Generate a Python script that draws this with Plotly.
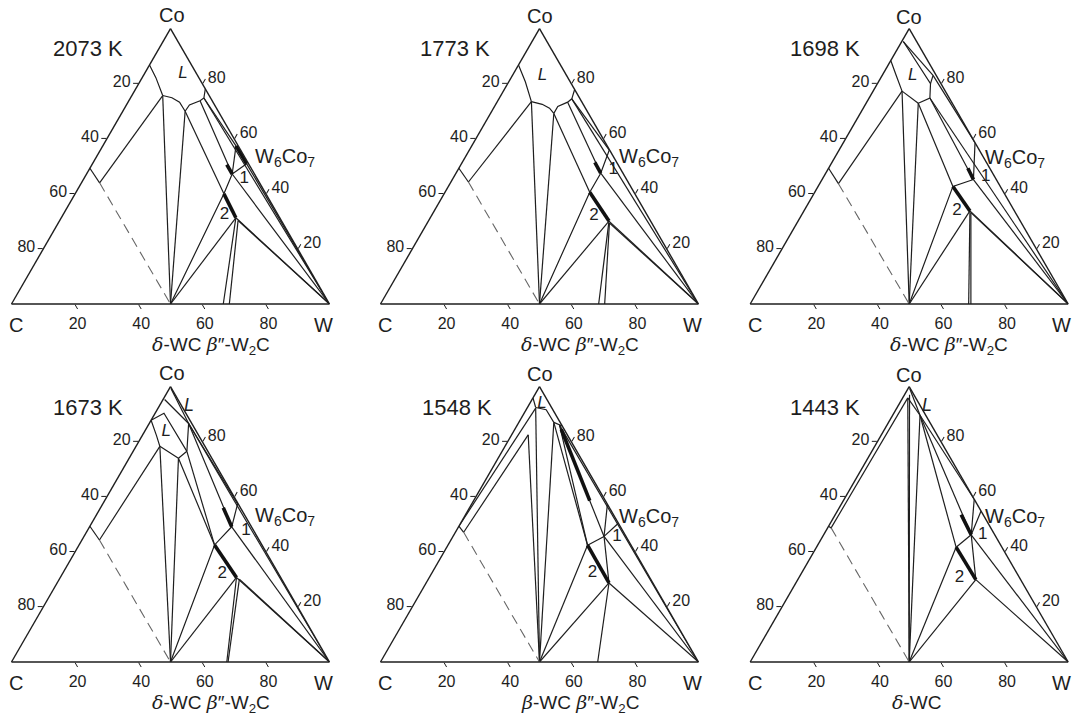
import plotly.graph_objects as go

# ---------------- DATA: polylines as (Co, W) in at.%, C = 100 - Co - W ----------------
TEMPS = ["2073 K", "1773 K", "1698 K", "1673 K", "1548 K", "1443 K"]
TICK_VALS = [20, 40, 60, 80]

T2073_thin = [
    [(49.3, 0), (44.0, 5.7)], [(44.0, 5.7), (75.7, 9.7)], [(75.7, 9.7), (0, 50)],
    [(86.8, 0), (82.2, 4.3), (75.7, 9.7)],
    [(75.7, 9.7), (74.9, 13.0), (73.3, 16.2), (70.0, 19.6)],
    [(70.0, 19.6), (0, 50)],
    [(70.0, 19.6), (72.3, 19.8), (73.8, 22.4), (74.8, 23.1), (78.1, 21.9)],
    [(70.0, 19.6), (40.0, 46.8)], [(73.8, 22.4), (47.2, 45.8)],
    [(74.8, 23.1), (0, 100)], [(74.8, 23.1), (57.4, 41.9)],
    [(50.9, 48.5), (0, 100)], [(50.9, 48.5), (47.2, 45.8)], [(57.4, 41.9), (47.2, 45.8)],
    [(47.2, 45.8), (0, 100)], [(0, 50), (40.0, 46.8), (47.2, 45.8)],
    [(0, 50), (31.3, 54.9)], [(31.3, 54.9), (0, 100)], [(30.3, 56.1), (0, 100)],
    [(0, 66.6), (31.3, 54.9)], [(0, 68.5), (30.3, 56.1)],
]
T2073_thick = [[(40.0, 46.8), (31.3, 54.9)], [(57.4, 41.9), (50.9, 48.5)], [(50.6, 42.4), (47.2, 45.8)]]
T2073_dash = [[(44.0, 5.7), (0, 50)]]
T2073_text = [("<i>L</i>", 83.5, 12.2), ("1", 45.6, 50.4), ("2", 32.5, 50.7)]

T1773_thin = [
    [(49.3, 0), (44.3, 5.5)], [(44.3, 5.5), (73.5, 10.7)], [(73.5, 10.7), (0, 50)],
    [(86.8, 0), (80.7, 5.2), (73.5, 10.7)],
    [(73.5, 10.7), (72.5, 14.6), (71.1, 17.6), (69.2, 19.9)],
    [(69.2, 19.9), (0, 50)],
    [(69.2, 19.9), (71.7, 19.9), (73.3, 22.2), (74.5, 22.9), (77.9, 22.1)],
    [(69.2, 19.9), (40.6, 45.5)], [(73.3, 22.2), (47.5, 45.5)],
    [(74.5, 22.9), (0, 100)], [(74.5, 22.9), (55.9, 44.0)],
    [(0, 50), (40.6, 45.5), (47.5, 45.5), (55.9, 44.0)],
    [(47.5, 45.5), (0, 100)], [(0, 50), (30.1, 56.8)], [(30.1, 56.8), (0, 100)],
    [(29.4, 57.3), (0, 100)], [(0, 68.6), (30.1, 56.8)], [(0, 70.5), (29.4, 57.3)],
]
T1773_thick = [[(40.6, 45.5), (30.1, 56.8)], [(51.4, 41.7), (47.5, 45.5)]]
T1773_dash = [[(44.3, 5.5), (0, 50)]]
T1773_text = [("<i>L</i>", 83.0, 9.4), ("1", 48.7, 48.8), ("2", 31.9, 51.2)]

T1698_thin = [
    [(49.3, 0), (43.7, 5.9)], [(43.7, 5.9), (77.3, 9.1)], [(77.3, 9.1), (0, 50)],
    [(88.4, 0), (82.9, 4.5), (77.3, 9.1)], [(77.3, 9.1), (72.9, 16.4)],
    [(72.9, 16.4), (0, 50)],
    [(72.9, 16.4), (74.8, 19.1), (80.0, 16.7), (95.3, 0.5)],
    [(95.3, 0.5), (83.0, 16.0)], [(80.0, 16.7), (83.0, 16.0)], [(83.0, 16.0), (58.6, 41.4)],
    [(72.9, 16.4), (42.7, 42.4)], [(74.8, 19.1), (45.2, 47.6)], [(74.8, 19.1), (0, 100)],
    [(58.6, 41.4), (45.2, 47.6)], [(0, 50), (42.7, 42.4), (45.2, 47.6)],
    [(45.2, 47.6), (0, 100)], [(0, 50), (33.8, 52.2)], [(33.8, 52.2), (0, 100)],
    [(33.2, 52.8), (0, 100)], [(0, 68.7), (33.8, 52.2)], [(0, 69.4), (33.2, 52.8)],
]
T1698_thick = [[(42.7, 42.4), (33.8, 52.2)], [(49.3, 43.8), (45.2, 47.6)]]
T1698_dash = [[(43.7, 5.9), (0, 50)]]
T1698_text = [("<i>L</i>", 82.9, 9.7), ("1", 46.2, 51.0), ("2", 33.8, 48.1)]

T1673_thin = [
    [(49.3, 0), (44.3, 5.5)], [(44.3, 5.5), (78.3, 7.5)], [(78.3, 7.5), (0, 50)],
    [(87.8, 0), (82.2, 4.5), (78.3, 7.5)],
    [(87.8, 0), (90.3, 2.8), (76.5, 16.9)],
    [(78.3, 7.5), (74.0, 15.5), (76.5, 16.9)],
    [(74.0, 15.5), (0, 50)], [(76.5, 16.9), (86.6, 12.4)],
    [(95.3, 0.5), (86.6, 12.4)], [(99.3, 0.5), (86.6, 12.4)],
    [(74.0, 15.5), (42.5, 42.6)], [(76.5, 16.9), (42.5, 42.6)],
    [(86.6, 12.4), (49.1, 44.7)], [(86.6, 12.4), (57.4, 42.4)], [(86.6, 12.4), (0, 100)],
    [(57.4, 42.4), (49.1, 44.7)], [(0, 50), (42.5, 42.6), (49.1, 44.7)],
    [(49.1, 44.7), (0, 100)], [(0, 50), (30.7, 55.4)], [(30.7, 55.4), (0, 100)],
    [(30.1, 56.6), (0, 100)], [(0, 67.7), (30.7, 55.4)], [(0, 68.1), (30.1, 56.6)],
]
T1673_thick = [[(42.5, 42.6), (30.7, 55.4)], [(56.0, 38.6), (49.1, 44.7)]]
T1673_dash = [[(44.3, 5.5), (0, 50)]]
T1673_text = [("<i>L</i>", 83.5, 6.9), ("1", 47.7, 49.9), ("2", 31.9, 50.3)]

T1548_thin = [
    [(49.3, 0), (92.2, 2.7)], [(49.3, 0), (47.1, 2.6)], [(47.1, 2.6), (82.5, 5.2)],
    [(82.5, 5.2), (0, 50)], [(92.2, 2.7), (0, 50)],
    [(92.4, 2.6), (91.6, 6.3), (87.0, 11.0)], [(95.9, 0), (92.4, 2.6)],
    [(87.0, 11.0), (0, 50)], [(87.0, 11.0), (85.7, 14.3)],
    [(87.0, 11.0), (42.4, 43.9)], [(86.0, 13.3), (42.4, 43.9)],
    [(86.0, 13.3), (45.6, 47.5)], [(86.0, 13.3), (0, 100)],
    [(57.3, 42.7), (45.6, 47.5)], [(50.4, 49.6), (45.6, 47.5)],
    [(45.6, 47.5), (28.7, 57.5)], [(28.7, 57.5), (0, 68.3)],
    [(0, 50), (42.4, 43.9)], [(42.4, 43.9), (45.6, 47.5)], [(45.6, 47.5), (0, 100)],
    [(0, 50), (28.7, 57.5)], [(28.7, 57.5), (0, 100)],
]
T1548_thick = [[(42.4, 43.9), (28.7, 57.5)], [(84.5, 14.6), (58.6, 36.5)]]
T1548_dash = [[(47.1, 2.6), (0, 50)]]
T1548_text = [("<i>L</i>", 93.8, 3.9), ("1", 45.6, 51.6), ("2", 32.3, 50.5)]

T1443_thin = [
    [(49.3, 0), (48.7, 1.1)], [(48.7, 1.1), (95.9, 1.6)], [(95.9, 1.6), (0, 50)],
    [(97.0, 1.6), (0, 50)],
    [(95.9, 1.6), (89.6, 8.6)], [(99.3, 0.5), (89.6, 8.6)], [(89.6, 8.6), (0, 50)],
    [(89.6, 8.6), (41.7, 43.9)], [(89.6, 8.6), (46.2, 46.4)], [(89.6, 8.6), (59.1, 40.9)],
    [(59.1, 40.9), (46.2, 46.4)], [(54.8, 45.2), (46.2, 46.4)],
    [(0, 50), (41.7, 43.9)], [(41.7, 43.9), (46.2, 46.4)], [(46.2, 46.4), (29.9, 56.0)],
    [(0, 50), (29.9, 56.0)], [(29.9, 56.0), (0, 100)], [(46.2, 46.4), (0, 100)],
]
T1443_thick = [[(41.7, 43.9), (29.9, 56.0)], [(53.5, 39.6), (46.2, 46.4)]]
T1443_dash = [[(48.7, 1.1), (0, 50)]]
T1443_text = [("1", 46.2, 50.0), ("2", 30.7, 50.5)]

PHASES = [
    "δ-WC β\"-W2C", "δ-WC β\"-W2C", "δ-WC β\"-W2C",
    "δ-WC β\"-W2C", "β-WC β\"-W2C", "δ-WC",
]

# ---------------- STYLE / LAYOUT ----------------
W_PX, H_PX = 1072, 716
FONT = "Liberation Sans, Arial, Helvetica, sans-serif"
LC = "#1e1e1e"
TC = "#1e1e1e"

# triangle placement (centre x, base y) in pixels, and side length
CENTERS = [(170.5, 304), (539.5, 304), (909.2, 304),
           (170.5, 662), (539.5, 662), (909.2, 662)]
SIDE = 318.0


def px(x, y):
    return x / W_PX, 1 - y / H_PX


def greek(s):
    out = ""
    for ch in s:
        if ch in "δβ":
            out += "<span style='font-family:DejaVu Serif;font-style:italic'>" + ch + "</span>"
        else:
            out += ch
    return out.replace("W2C", "W<sub>2</sub>C").replace("\"", "\u2033")


fig = go.Figure()

panels = [
    (T2073_thin, T2073_thick, T2073_dash, T2073_text),
    (T1773_thin, T1773_thick, T1773_dash, T1773_text),
    (T1698_thin, T1698_thick, T1698_dash, T1698_text),
    (T1673_thin, T1673_thick, T1673_dash, T1673_text),
    (T1548_thin, T1548_thick, T1548_dash, T1548_text),
    (T1443_thin, T1443_thick, T1443_dash, T1443_text),
]


def lines_abc(lines):
    a, b, c = [], [], []
    for line in lines:
        for co, w in line:
            a.append(co)
            c.append(w)
            b.append(100 - co - w)
        a.append(None); b.append(None); c.append(None)
    return a, b, c


layout_extra = {}
for i, (thin, thick, dash, texts) in enumerate(panels):
    sp = "ternary" if i == 0 else f"ternary{i + 1}"
    for lines, width, dsh, col in [(thin, 1.2, None, LC), (thick, 3.6, None, "#111"),
                                    (dash, 1.1, "10px,6px", "#666")]:
        a, b, c = lines_abc(lines)
        fig.add_trace(go.Scatterternary(
            a=a, b=b, c=c, mode="lines", subplot=sp, hoverinfo="skip", showlegend=False,
            line=dict(color=col, width=width, dash=dsh)))
    fig.add_trace(go.Scatterternary(
        a=[t[1] for t in texts], c=[t[2] for t in texts],
        b=[100 - t[1] - t[2] for t in texts],
        text=[t[0] for t in texts], mode="text", subplot=sp, hoverinfo="skip",
        showlegend=False, cliponaxis=False,
        textfont=dict(size=17, family=FONT, color=TC)))

    cx, by = CENTERS[i]
    h = SIDE * 3 ** 0.5 / 2
    x0, _ = px(cx - SIDE / 2, 0)
    x1, _ = px(cx + SIDE / 2, 0)
    _, y0 = px(0, by)
    _, y1 = px(0, by - h)
    common = dict(showgrid=False, showline=True, linecolor=LC, linewidth=1.4,
                  ticks="outside", ticklen=5, tickwidth=1, tickcolor=LC,
                  tickfont=dict(size=16, family=FONT, color=TC), title=dict(text=""),
                  tickmode="array", min=0)
    layout_extra[sp] = dict(
        domain=dict(x=[x0, x1], y=[y0, y1]), sum=100, bgcolor="white",
        aaxis=dict(common, tickvals=[100 - v for v in TICK_VALS], ticktext=[str(v) for v in TICK_VALS]),
        baxis=dict(common, tickvals=[100 - v for v in TICK_VALS], ticktext=[str(v) for v in TICK_VALS]),
        caxis=dict(common, tickvals=TICK_VALS, ticktext=[str(100 - v) for v in TICK_VALS]),
    )

# ---------------- ANNOTATIONS (text outside the triangles) ----------------
ann = []
TEMP_POS = [(88, 48), (455, 49), (825, 49), (88, 407), (456.5, 407), (825, 407)]
CO_POS = [(172, 15), (540, 16), (909, 17), (172, 373), (540, 374), (909, 375)]
C_POS = [(16, 325), (385, 325), (755, 325), (16, 683), (385, 683), (755, 683)]
W_POS = [(323, 325), (692, 325), (1061, 325), (323, 683), (692, 683), (1061, 683)]
W6_POS = [(285, 158), (649, 158), (1015, 159), (285, 516), (649, 517), (1015, 517)]
PH_POS = [(210.5, 333), (579.5, 333), (949, 333), (210.5, 691), (579.5, 691), (916, 691)]
L_OUT = [(189, 405), (927, 405)]


def add(text, pos, size, yanchor="middle"):
    x, y = px(*pos)
    ann.append(dict(text=text, x=x, y=y, xref="paper", yref="paper", showarrow=False,
                    xanchor="center", yanchor=yanchor, borderpad=0, borderwidth=0,
                    font=dict(size=size, family=FONT, color=TC)))


for i in range(6):
    add(TEMPS[i], TEMP_POS[i], 22)
    add("Co", CO_POS[i], 20)
    add("C", C_POS[i], 20)
    add("W", W_POS[i], 20)
    add("W<sub>6</sub>Co<sub>7</sub>", W6_POS[i], 20)
    add(greek(PHASES[i]), PH_POS[i], 19, yanchor="top")
for p in L_OUT:
    add("<i>L</i>", p, 18)

fig.update_layout(
    width=W_PX, height=H_PX, margin=dict(l=0, r=0, t=0, b=0),
    paper_bgcolor="white", plot_bgcolor="white", hovermode=False,
    annotations=ann, **layout_extra)

fig.write_html("out.html", config={"displayModeBar": False},
               post_script="document.body.style.margin='0px';")
